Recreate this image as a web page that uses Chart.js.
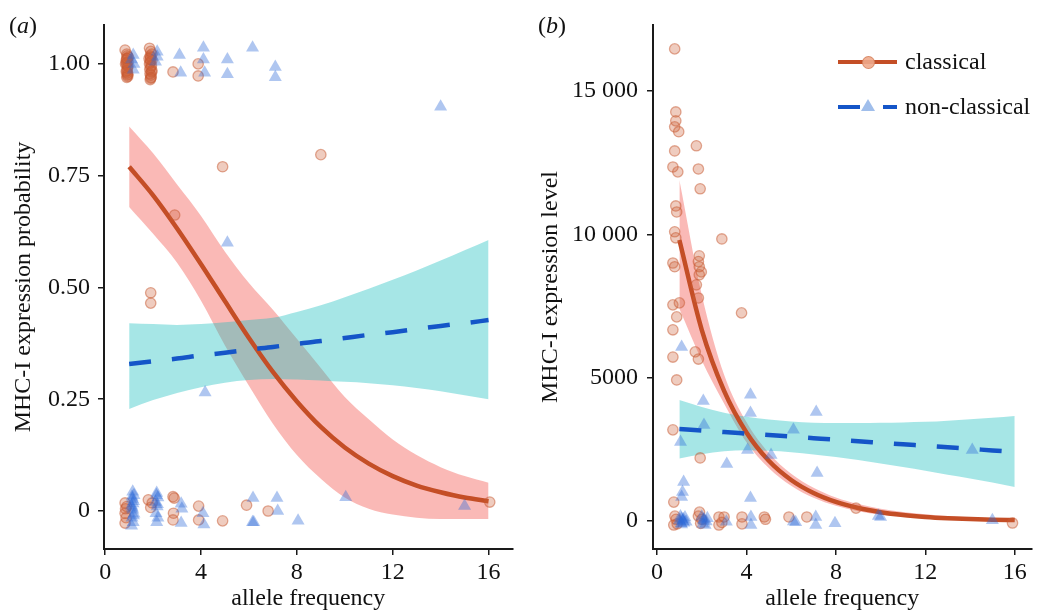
<!DOCTYPE html>
<html>
<head>
<meta charset="utf-8">
<script src="https://cdn.jsdelivr.net/npm/chart.js@4.4.0/dist/chart.umd.min.js"></script>
<style>
  html, body { margin: 0; padding: 0; background: #fff; }
  body { width: 1039px; height: 613px; position: relative; overflow: hidden; font-family: 'Liberation Serif', 'Times New Roman', serif; color: #111; }
  canvas { position: absolute; top: 0; }
  #ca { left: 0; }
  #cb { left: 520px; }
  .plab { position: absolute; font-size: 24px; line-height: 24px; top: 13px; white-space: nowrap; }
  .leg { position: absolute; left: 0; top: 0; width: 1039px; height: 200px; }
  .legtxt { position: absolute; font-size: 24px; line-height: 28px; white-space: nowrap; }
  .seg { position: absolute; height: 4px; }
</style>
</head>
<body>
<canvas id="ca" width="520" height="613"></canvas>
<canvas id="cb" width="519" height="613"></canvas>
<div class="plab" style="left:9px;">(<i>a</i>)</div>
<div class="plab" style="left:538px;">(<i>b</i>)</div>
<div class="leg">
  <div class="seg" style="left:838px; top:60px; width:59px; background:#C44E26;"></div>
  <div style="position:absolute; left:862px; top:56px; width:11px; height:11px; border-radius:50%; background:rgba(238,170,140,0.9); border:1px solid rgba(200,110,70,0.6);"></div>
  <div class="legtxt" style="left:905px; top:47px;">classical</div>
  <div class="seg" style="left:838px; top:105px; width:22px; background:#1455C8;"></div>
  <div class="seg" style="left:883px; top:105px; width:14px; background:#1455C8;"></div>
  <div style="position:absolute; left:861px; top:99px; width:0; height:0; border-left:7px solid transparent; border-right:7px solid transparent; border-bottom:12px solid rgba(160,190,235,1);"></div>
  <div class="legtxt" style="left:905px; top:92px;">non-classical</div>
</div>
<script>
// ---------- data ----------
const curveX = [1,2,3,4,5,6,7,8,9,10,11,12,13,14,15,16];

// panel (a): expression probability
const aClassFit = [0.770,0.706,0.632,0.552,0.469,0.387,0.311,0.245,0.188,0.142,0.106,0.078,0.057,0.042,0.030,0.022];
const aClassLo  = [0.680,0.620,0.555,0.470,0.370,0.280,0.195,0.125,0.072,0.030,0.005,-0.008,-0.015,-0.018,-0.018,-0.018];
const aClassHi  = [0.860,0.800,0.730,0.660,0.580,0.510,0.450,0.385,0.320,0.255,0.205,0.160,0.125,0.098,0.078,0.063];
const aNonFit   = [0.329,0.335,0.341,0.348,0.354,0.361,0.367,0.374,0.380,0.387,0.394,0.400,0.407,0.414,0.420,0.427];
const aNonLo    = [0.228,0.248,0.264,0.277,0.287,0.293,0.295,0.294,0.292,0.289,0.286,0.281,0.275,0.268,0.259,0.250];
const aNonHi    = [0.420,0.418,0.416,0.418,0.422,0.427,0.432,0.445,0.460,0.478,0.497,0.517,0.538,0.560,0.583,0.606];

const aClassPtsX = [0.83,0.90,0.92,0.95,0.90,0.93,0.88,0.95,0.90,0.97,0.85,0.93,
  0.92,0.88,0.95,0.91,0.89,0.94,0.92,0.90,
  1.85,1.90,1.88,1.95,1.85,1.90,1.95,1.87,1.92,1.88,1.83,1.95,
  1.90,1.88,1.93,1.86,1.91,1.89,1.94,1.90,
  2.83,3.88,3.88,4.9,9.0,2.9,1.9,1.9,16.05,
  0.83,0.85,0.83,0.87,0.83,0.90,1.80,1.96,1.90,2.83,2.88,2.85,2.83,3.90,3.90,4.90,5.90,6.80];
const aClassPtsY = [1.031,1.022,1.012,1.005,0.998,0.990,0.983,0.977,0.970,1.015,1.000,0.975,
  1.018,1.008,0.995,0.985,1.003,0.972,0.980,1.012,
  1.035,1.028,1.018,1.008,1.000,0.992,0.985,0.978,0.970,0.965,1.012,1.022,
  1.015,1.004,0.996,0.988,0.975,1.010,0.982,0.968,
  0.982,1.000,0.973,0.770,0.797,0.662,0.488,0.465,0.020,
  0.018,0.005,-0.005,-0.015,-0.027,0.010,0.025,0.018,0.008,0.032,0.029,-0.005,-0.020,0.011,-0.020,-0.022,0.013,0.000];
const aNonPtsX = [1.17,1.10,1.17,1.20,2.17,2.17,2.10,3.10,3.15,4.10,4.10,4.15,5.10,5.10,6.15,7.10,7.10,
  14.0,5.1,4.17,10.04,15.0,
  1.15,1.12,1.18,1.10,1.15,1.20,1.12,1.17,1.10,1.20,1.14,1.16,1.13,1.18,
  2.15,2.20,2.10,2.17,2.12,2.20,2.15,2.14,2.18,
  3.17,3.20,3.17,4.08,4.12,6.17,6.15,6.20,7.17,7.20,8.05];
const aNonPtsY = [1.020,1.010,0.987,1.000,1.027,1.016,1.005,1.020,0.980,1.036,1.010,0.980,1.010,0.977,1.036,0.993,0.970,
  0.904,0.600,0.265,0.031,0.011,
  0.043,0.032,0.022,0.012,0.003,-0.006,-0.015,-0.025,-0.033,0.035,0.027,0.017,0.007,-0.010,
  0.040,0.030,0.020,0.010,-0.005,-0.015,-0.025,0.035,0.015,
  0.016,0.005,-0.027,-0.005,-0.030,0.029,-0.025,-0.025,0.029,0.000,-0.022];

// panel (b): expression level
const bClassFit = [9800,6670,4540,3090,2100,1430,975,663,451,307,209,142,97,66,45,31];
const bClassLo  = [7400,5600,4100,2750,1850,1230,810,530,340,215,135,85,55,35,22,14];
const bClassHi  = [11900,7900,5100,3450,2370,1650,1160,820,590,430,315,235,175,130,100,75];
const bNonFit   = [3210,3157,3103,3050,2997,2943,2890,2837,2783,2730,2677,2623,2570,2517,2463,2410];
const bNonLo    = [2180,2330,2430,2470,2450,2400,2320,2230,2130,2010,1880,1750,1610,1480,1340,1190];
const bNonHi    = [4220,3980,3780,3640,3540,3470,3430,3420,3420,3430,3440,3460,3500,3550,3600,3660];

const bClassPtsX = [0.79,0.84,0.84,0.79,0.97,0.79,1.76,0.71,0.93,1.85,1.93,0.84,0.88,0.79,0.84,2.90,
  0.71,0.79,1.89,1.85,1.89,1.98,1.89,1.76,1.85,0.71,1.00,3.78,0.88,0.71,0.71,1.71,1.85,0.88,0.71,1.93,0.75,
  0.80,0.75,0.90,0.85,1.90,1.85,2.00,1.95,2.77,2.77,3.00,2.90,3.80,3.80,4.80,4.85,5.90,6.70,8.90,15.90];
const bClassPtsY = [16470,14270,13960,13750,13580,12910,13090,12350,12180,12280,11590,10990,10780,10090,9880,9840,
  9000,8870,9250,9050,8870,8690,8590,8240,7780,7540,7610,7260,7120,6670,5720,5900,5650,4920,3180,2200,660,
  170,-140,-100,60,310,170,60,-80,140,-140,140,-50,140,-100,140,60,140,140,450,-70];
const bNonPtsX = [2.07,2.10,1.05,4.18,4.18,7.12,6.10,4.05,5.10,3.12,7.16,1.19,1.14,1.10,4.18,1.10,14.1,9.9,15.0,7.96,
  1.05,1.10,1.15,1.20,1.10,1.25,1.00,1.30,1.18,1.08,
  2.00,2.10,2.20,2.05,2.25,2.15,2.08,
  3.10,4.20,4.20,6.10,6.20,7.10,7.10,10.0];
const bNonPtsY = [4190,3350,2760,4400,3770,3800,3180,2480,2300,1990,1670,1360,1010,840,800,6070,2480,170,30,-80,
  160,80,0,-60,-120,120,20,-30,50,-80,
  150,60,-20,-100,100,-140,20,
  -30,140,-140,-20,-40,140,-140,140];

const xTicks = [0,4,8,12,16];
const xTickLabels = ['0','4','8','12','16'];
const aYTicks = [0,0.25,0.5,0.75,1];
const aYTickLabels = ['0','0.25','0.50','0.75','1.00'];
const bYTicks = [0,5000,10000,15000];
const bYTickLabels = ['0','5000','10 000','15 000'];

// ---------- styles ----------
const FONT = { family: "'Liberation Serif', 'Times New Roman', serif", size: 24 };
const AX = '#1a1a1a';
const C_LINE = '#C44E26';
const N_LINE = '#1455C8';
const C_PT_FILL = 'rgba(205,95,55,0.32)';
const C_PT_BORDER = 'rgba(200,90,50,0.5)';
const N_PT_FILL = 'rgba(45,105,215,0.38)';
const PINK = 'rgba(245,115,110,0.5)';
const TEAL = 'rgba(20,188,190,0.38)';

function pts(xs, ys) { return xs.map((x, i) => ({ x: x, y: ys[i] })); }
function crv(ys) { return curveX.map((x, i) => ({ x: x, y: ys[i] })); }

function panel(id, cfg) {
  const lineBase = { showLine: true, pointRadius: 0, pointHoverRadius: 0, cubicInterpolationMode: 'monotone' };
  const datasets = [
    { data: pts(cfg.nx, cfg.ny), showLine: false, pointStyle: 'triangle', pointRadius: 7.5, pointBackgroundColor: N_PT_FILL, pointBorderWidth: 0, pointBorderColor: 'rgba(0,0,0,0)' },
    { data: pts(cfg.cx, cfg.cy), showLine: false, pointStyle: 'circle', pointRadius: 5.2, pointBackgroundColor: C_PT_FILL, pointBorderColor: C_PT_BORDER, pointBorderWidth: 1.3 },
    Object.assign({ data: crv(cfg.nFit), borderColor: N_LINE, borderWidth: 4.5, borderDash: [22, 21], fill: false }, lineBase),
    Object.assign({ data: crv(cfg.cFit), borderColor: C_LINE, borderWidth: 4.5, fill: false }, lineBase),
    Object.assign({ data: crv(cfg.nHi), borderWidth: 0, borderColor: 'rgba(0,0,0,0)', backgroundColor: TEAL, fill: '+1' }, lineBase),
    Object.assign({ data: crv(cfg.nLo), borderWidth: 0, borderColor: 'rgba(0,0,0,0)', fill: false }, lineBase),
    Object.assign({ data: crv(cfg.cHi), borderWidth: 0, borderColor: 'rgba(0,0,0,0)', backgroundColor: PINK, fill: '+1' }, lineBase),
    Object.assign({ data: crv(cfg.cLo), borderWidth: 0, borderColor: 'rgba(0,0,0,0)', fill: false }, lineBase)
  ];
  return new Chart(document.getElementById(id), {
    type: 'line',
    data: { datasets: datasets },
    options: {
      responsive: false,
      animation: false,
      events: [],
      layout: { padding: { left: 0, top: 25, right: cfg.padRight, bottom: 0 } },
      plugins: { legend: { display: false }, tooltip: { enabled: false } },
      scales: {
        x: {
          type: 'linear', min: cfg.xMin, max: cfg.xMax,
          afterBuildTicks: (s) => { s.ticks = xTicks.map(v => ({ value: v })); },
          afterFit: (s) => { s.height = 64; },
          ticks: { font: FONT, color: '#111', padding: 3, maxRotation: 0, autoSkip: false,
                   callback: (v) => xTickLabels[xTicks.indexOf(v)] },
          grid: { display: true, drawOnChartArea: false, drawTicks: true, tickLength: 6, color: AX, lineWidth: 1.5 },
          border: { display: true, color: AX, width: 2 },
          title: { display: true, text: 'allele frequency', font: FONT, color: '#111', padding: { top: 0, bottom: 0 } }
        },
        y: {
          type: 'linear', min: cfg.yMin, max: cfg.yMax,
          afterBuildTicks: (s) => { s.ticks = cfg.yTicks.map(v => ({ value: v })); },
          afterFit: (s) => { s.width = cfg.yWidth; },
          ticks: { font: FONT, color: '#111', padding: cfg.yPad, autoSkip: false,
                   callback: (v) => cfg.yLabels[cfg.yTicks.indexOf(v)] },
          grid: { display: true, drawOnChartArea: false, drawTicks: true, tickLength: 6, color: AX, lineWidth: 1.5 },
          border: { display: true, color: AX, width: 2 },
          title: { display: true, text: cfg.yTitle, font: FONT, color: '#111', padding: { top: cfg.yTitlePad, bottom: 0 } }
        }
      }
    }
  });
}

panel('ca', {
  cx: aClassPtsX, cy: aClassPtsY, nx: aNonPtsX, ny: aNonPtsY,
  cFit: aClassFit, cLo: aClassLo, cHi: aClassHi, nFit: aNonFit, nLo: aNonLo, nHi: aNonHi,
  xMin: -0.05, xMax: 17.0, yMin: -0.085, yMax: 1.087,
  yTicks: aYTicks, yLabels: aYTickLabels, yTitle: 'MHC-I expression probability',
  yWidth: 104, yPad: 8, yTitlePad: 9, padRight: 7
});
panel('cb', {
  cx: bClassPtsX, cy: bClassPtsY, nx: bNonPtsX, ny: bNonPtsY,
  cFit: bClassFit, cLo: bClassLo, cHi: bClassHi, nFit: bNonFit, nLo: bNonLo, nHi: bNonHi,
  xMin: -0.18, xMax: 16.75, yMin: -977, yMax: 17303,
  yTicks: bYTicks, yLabels: bYTickLabels, yTitle: 'MHC-I expression level',
  yWidth: 133, yPad: 9, yTitlePad: 16, padRight: 1
});
</script>
</body>
</html>
